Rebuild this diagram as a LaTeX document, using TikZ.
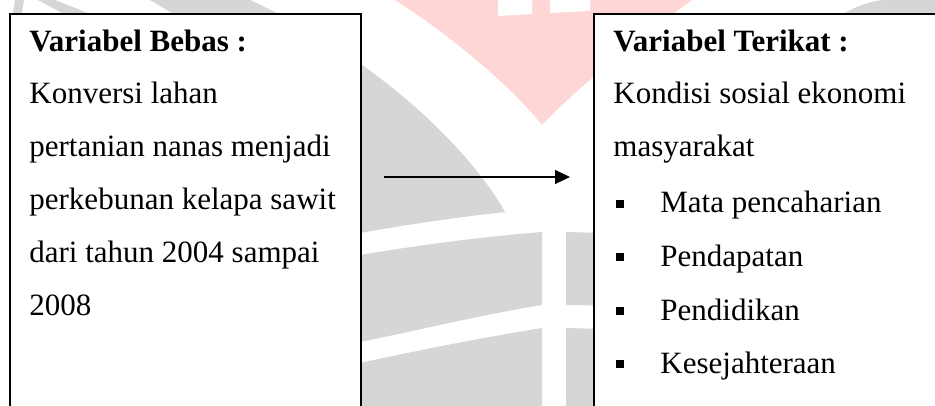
\documentclass[tikz,border=0pt]{standalone}
\usepackage{fontspec}
\setmainfont{Liberation Serif}
\usetikzlibrary{arrows.meta}
\definecolor{wmgrey}{RGB}{214,214,214}
\definecolor{wmpink}{RGB}{255,214,214}
\begin{document}
\begin{tikzpicture}[x=0.5pt,y=-0.5pt,
  box/.style={draw=black,line width=0.8pt,fill=white,anchor=north west,inner sep=0pt},
  txt/.style={anchor=base west,inner sep=0pt,font=\fontsize{15.5pt}{18pt}\selectfont},
  head/.style={txt,font=\fontsize{15.5pt}{18pt}\selectfont\bfseries},
  bul/.style={fill=black,inner sep=0pt,minimum width=4.2pt,minimum height=3.8pt},
  link/.style={line width=0.6pt,-{Triangle[length=7.5pt,width=7pt]}},
  wmg/.style={fill=wmgrey},
  wmp/.style={fill=wmpink}]
\clip (0,0) rectangle (935,406);
\fill[white] (0,0) rectangle (935,406);

% faint logo in the background
\fill[wmp] (395,0) .. controls (450,35) and (510,85) .. (542,125)
  .. controls (575,90) and (630,45) .. (692,0) -- cycle;
\fill[white] (498,0) -- (532,0) -- (532,14) -- (498,16) -- cycle;
\fill[white] (550,0) -- (590,0) -- (590,11) -- (550,13) -- cycle;
\fill[wmg] (150,0) -- (250,0) .. controls (380,60) and (470,150) .. (505,212)
  .. controls (450,218) and (400,226) .. (360,233) -- (200,260) -- (172,13) -- cycle;
\fill[wmg] (200,275) -- (360,255) .. controls (420,245) and (480,237) .. (542,232)
  -- (542,305) .. controls (480,315) and (420,330) .. (360,342) -- (200,380) -- cycle;
\fill[wmg] (566,232) -- (640,234) -- (640,306) -- (566,305) -- cycle;
\fill[wmg] (200,420) -- (200,400) -- (360,363) .. controls (420,350) and (480,338) .. (542,328)
  -- (542,420) -- cycle;
\fill[wmg] (566,328) -- (640,330) -- (640,420) -- (566,420) -- cycle;
\fill[wmg] (15,0) -- (24,0) -- (22,13) -- (13,13) -- cycle;
\fill[wmg] (38,0) -- (55,0) -- (88,13) -- (62,13) -- cycle;
\fill[wmg] (845,13) .. controls (855,7) and (868,2) .. (882,0) -- (935,0) -- (935,13) -- cycle;

% the two variable boxes
\node[box,minimum width=175.5pt,minimum height=215pt] (bebas) at (9,13) {};
\node[box,minimum width=200pt,minimum height=215pt] (terikat) at (593,13) {};

% independent variable
\node[head] (hbebas) at (29,52) {Variabel Bebas :};
\node[txt] (lb1) at (29,104) {Konversi lahan};
\node[txt] (lb2) at (29,157) {pertanian nanas menjadi};
\node[txt] (lb3) at (29,209) {perkebunan kelapa sawit};
\node[txt] (lb4) at (29,262) {dari tahun 2004 sampai};
\node[txt] (lb5) at (29,315) {2008};

% dependent variable
\node[head] (hterikat) at (613,52) {Variabel Terikat :};
\node[txt] (lt1) at (613,104) {Kondisi sosial ekonomi};
\node[txt] (lt2) at (613,157) {masyarakat};
\node[bul] (d1) at (620,204) {};
\node[bul] (d2) at (620,257) {};
\node[bul] (d3) at (620,311) {};
\node[bul] (d4) at (620,364) {};
\node[txt] (it1) at (660,213) {Mata pencaharian};
\node[txt] (it2) at (660,266) {Pendapatan};
\node[txt] (it3) at (660,320) {Pendidikan};
\node[txt] (it4) at (660,373) {Kesejahteraan};

% arrow between the boxes
\path (bebas.north east) ++(22,164) coordinate (ls);
\path (terikat.north west) ++(-23,164) coordinate (le);
\draw[link] (ls) -- (le);
\end{tikzpicture}
\end{document}
